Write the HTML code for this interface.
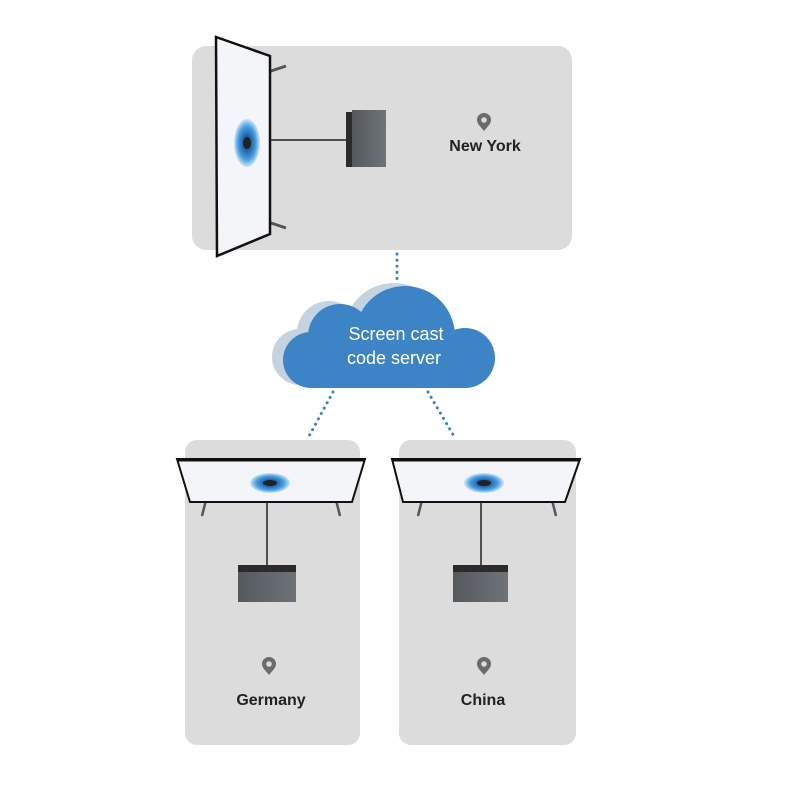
<!DOCTYPE html>
<html><head><meta charset="utf-8"><style>
html,body{margin:0;padding:0;background:#fff;width:800px;height:800px;overflow:hidden}
svg{display:block}
text{font-family:"Liberation Sans",sans-serif}
</style></head><body>
<svg width="800" height="800" viewBox="0 0 800 800" xmlns="http://www.w3.org/2000/svg">
<defs>
<radialGradient id="eye" cx="50%" cy="50%" r="50%">
<stop offset="0.3" stop-color="#1d5fa8"/><stop offset="0.7" stop-color="#4aa0e0"/><stop offset="1" stop-color="#cfe6f7"/>
</radialGradient>
<linearGradient id="box" x1="0" x2="1"><stop offset="0" stop-color="#55595e"/><stop offset="1" stop-color="#6e7377"/></linearGradient>
<g id="pin"><path d="M0,-8 a7,7 0 0 1 7,7 c0,4 -4,7 -7,11 c-3,-4 -7,-7 -7,-11 a7,7 0 0 1 7,-7z" fill="#6b6b6b"/><circle cx="0" cy="-1" r="2.8" fill="#dcdcdc"/></g>
</defs>
<rect x="192" y="46" width="380" height="204" rx="14" fill="#dcdcdc"/>
<rect x="185" y="440" width="175" height="305" rx="12" fill="#dcdcdc"/>
<rect x="399" y="440" width="177" height="305" rx="12" fill="#dcdcdc"/>

<line x1="268" y1="72" x2="286" y2="66" stroke="#555" stroke-width="3"/>
<line x1="268" y1="222" x2="286" y2="228" stroke="#555" stroke-width="3"/>
<polygon points="216,37 270,56 270,234 217,256" fill="#f3f5f8" stroke="#111" stroke-width="2.5"/>
<ellipse cx="247" cy="143" rx="13" ry="24" fill="url(#eye)"/>
<ellipse cx="247" cy="143" rx="4" ry="6" fill="#222"/>
<line x1="270" y1="140" x2="348" y2="140" stroke="#222" stroke-width="1.5"/>
<rect x="346" y="112" width="7" height="55" fill="#2b2b2b"/>
<rect x="352" y="110" width="34" height="57" fill="url(#box)"/>
<use href="#pin" x="484" y="121"/>
<text x="485" y="151" font-size="16" font-weight="bold" fill="#222" text-anchor="middle">New York</text>

<g stroke="#3b82c4" stroke-width="3" stroke-dasharray="0.1 6" stroke-linecap="round">
<line x1="397" y1="254" x2="397" y2="282"/>
<line x1="333" y1="392" x2="308" y2="438"/>
<line x1="428" y1="392" x2="455" y2="438"/>
</g>

<g fill="#c3d3df" transform="translate(-11,-3)">
<circle cx="405" cy="336" r="50"/><circle cx="340" cy="336" r="32"/><circle cx="311" cy="360" r="28"/>
<rect x="311" y="340" width="150" height="48"/>
</g>
<g fill="#3d84c6">
<circle cx="405" cy="336" r="50"/><circle cx="340" cy="336" r="32"/><circle cx="311" cy="360" r="28"/><circle cx="465" cy="358" r="30"/>
<rect x="311" y="340" width="154" height="48"/>
</g>
<text x="396" y="340" font-size="18" fill="#fff" text-anchor="middle">Screen cast</text>
<text x="394" y="364" font-size="18" fill="#fff" text-anchor="middle">code server</text>

<line x1="206" y1="500" x2="202" y2="516" stroke="#555" stroke-width="2.5"/>
<line x1="336" y1="500" x2="340" y2="516" stroke="#555" stroke-width="2.5"/>
<polygon points="177,459 365,459 352,502 190,502" fill="#f3f5f8" stroke="#111" stroke-width="2"/>
<line x1="178" y1="460" x2="364" y2="460" stroke="#111" stroke-width="3"/>
<ellipse cx="270" cy="483" rx="20" ry="10" fill="url(#eye)"/>
<ellipse cx="270" cy="483" rx="7" ry="3" fill="#222"/>
<line x1="267" y1="502" x2="267" y2="566" stroke="#222" stroke-width="1.5"/>
<rect x="238" y="565" width="58" height="7" fill="#2b2b2b"/>
<rect x="238" y="572" width="58" height="30" fill="url(#box)"/>
<use href="#pin" x="269" y="665"/>
<text x="271" y="705" font-size="16" font-weight="bold" fill="#222" text-anchor="middle">Germany</text>

<line x1="422" y1="500" x2="418" y2="516" stroke="#555" stroke-width="2.5"/>
<line x1="552" y1="500" x2="556" y2="516" stroke="#555" stroke-width="2.5"/>
<polygon points="392,459 580,459 565,502 403,502" fill="#f3f5f8" stroke="#111" stroke-width="2"/>
<line x1="393" y1="460" x2="579" y2="460" stroke="#111" stroke-width="3"/>
<ellipse cx="484" cy="483" rx="20" ry="10" fill="url(#eye)"/>
<ellipse cx="484" cy="483" rx="7" ry="3" fill="#222"/>
<line x1="481" y1="502" x2="481" y2="566" stroke="#222" stroke-width="1.5"/>
<rect x="453" y="565" width="55" height="7" fill="#2b2b2b"/>
<rect x="453" y="572" width="55" height="30" fill="url(#box)"/>
<use href="#pin" x="484" y="665"/>
<text x="483" y="705" font-size="16" font-weight="bold" fill="#222" text-anchor="middle">China</text>
</svg>
</body></html>
